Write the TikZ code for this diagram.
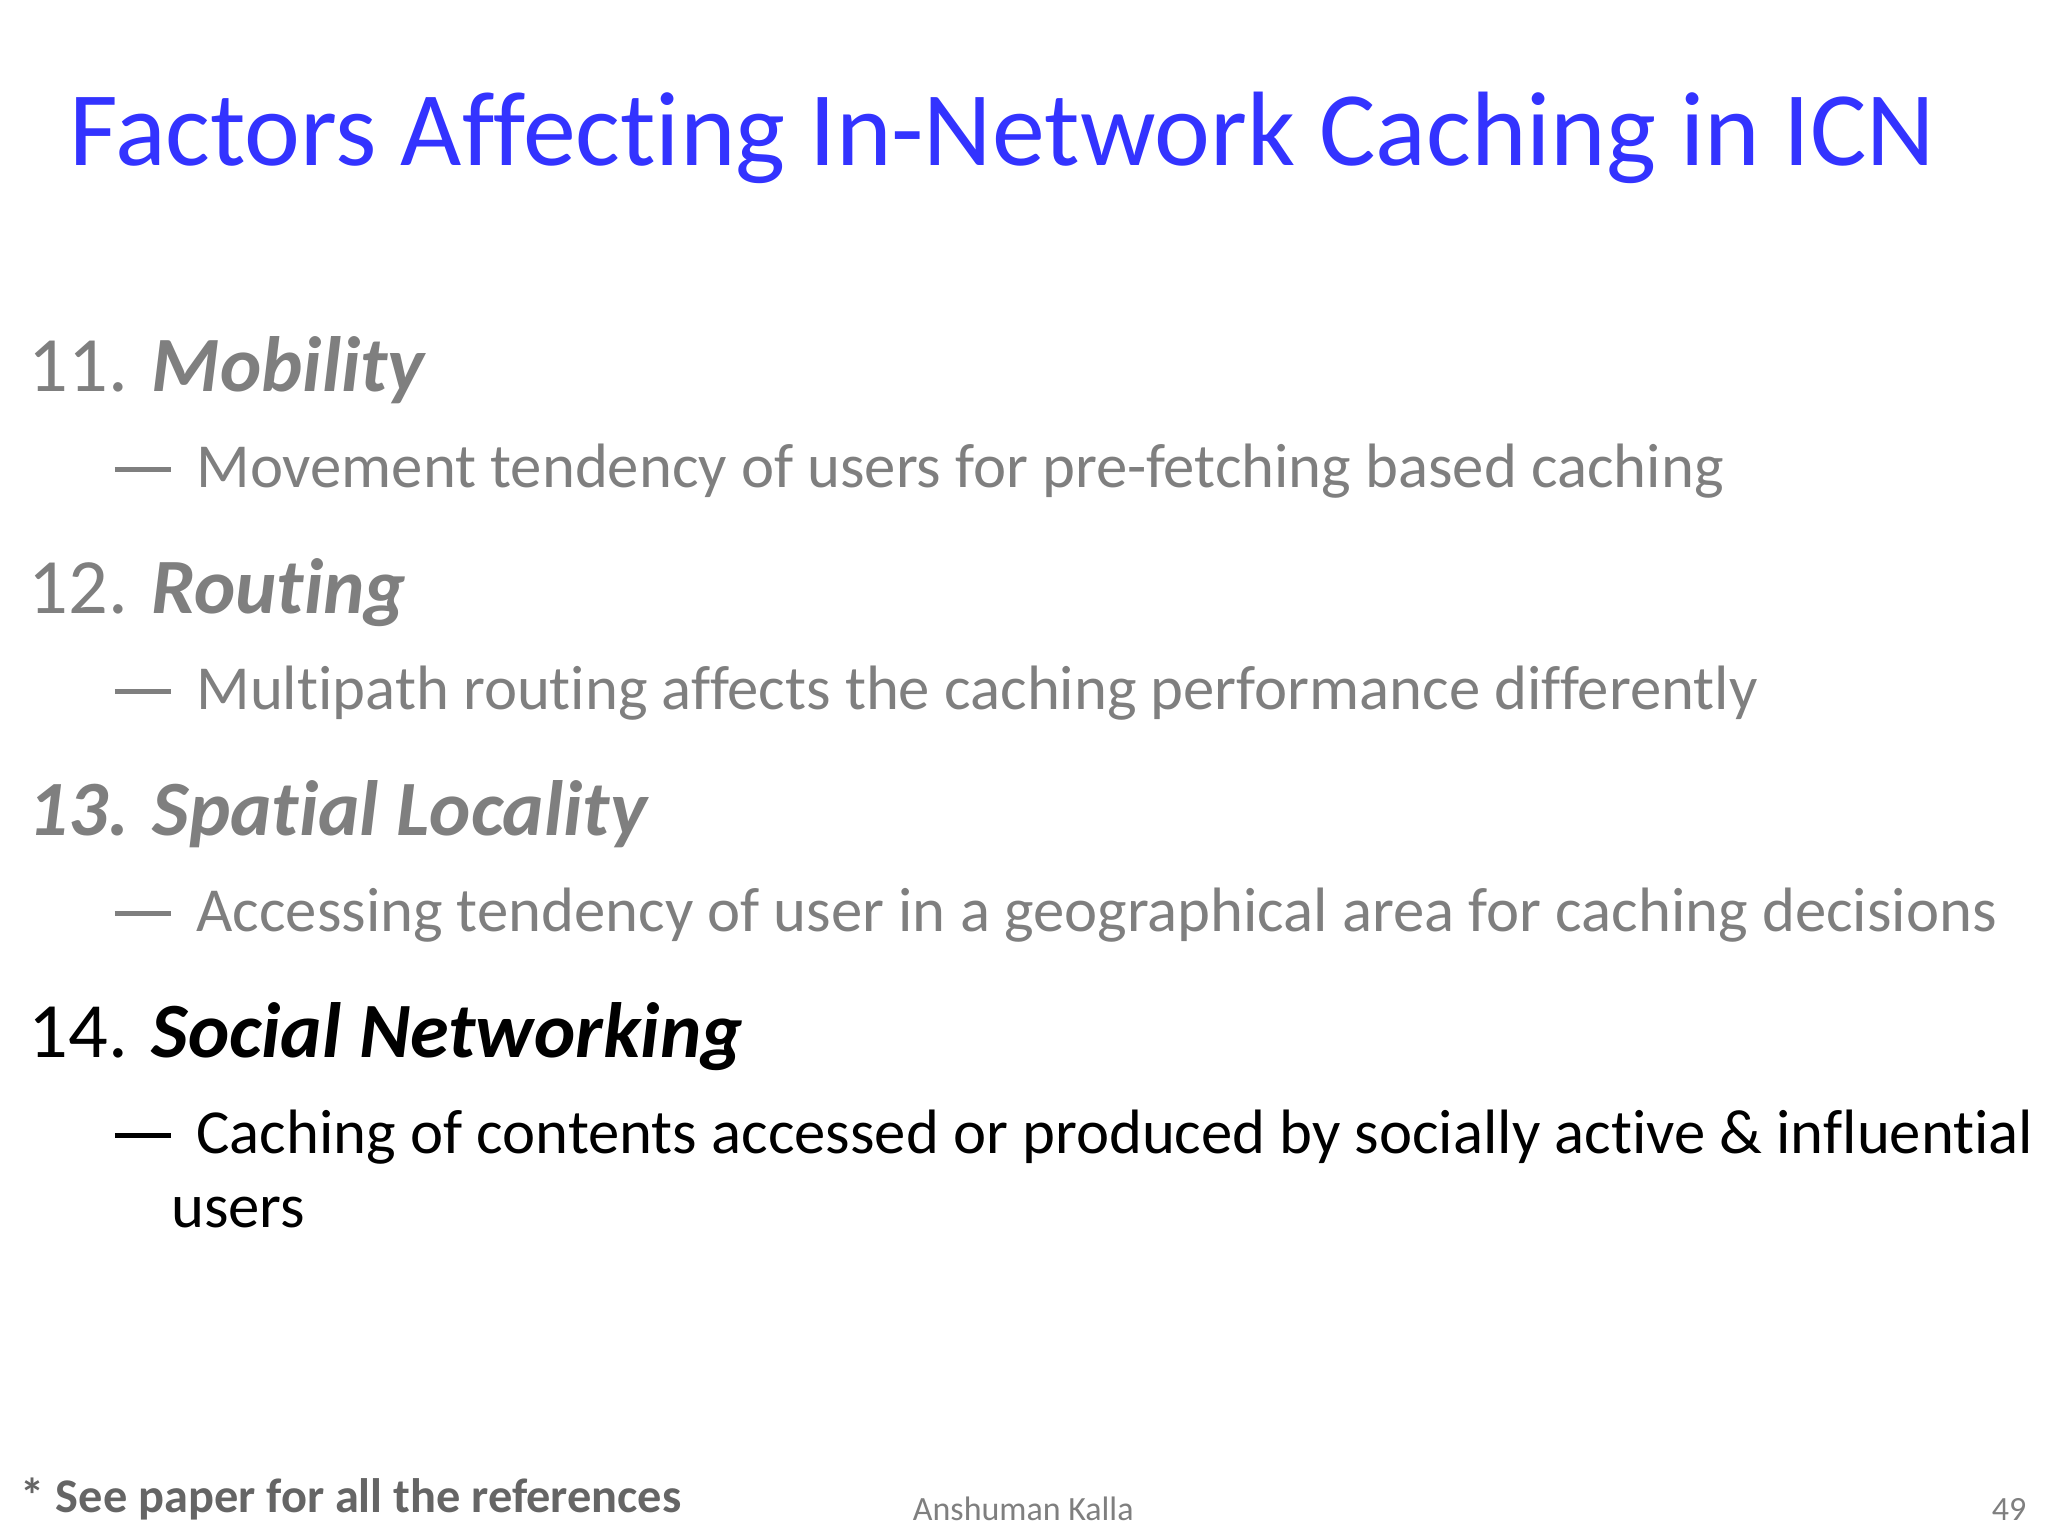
\documentclass[tikz,border=0pt]{standalone}
\usepackage{fontspec}
\setmainfont{Carlito}[RawFeature={-liga;-clig}]
\definecolor{ttl}{RGB}{51,51,255}
\definecolor{gr}{RGB}{127,127,127}
\newcommand{\dsh}{\rule[0.25em]{0.9em}{0.07em}\hspace{0.4em}}
\begin{document}
\begin{tikzpicture}[x=0.5pt,y=-0.5pt,
  every node/.style={anchor=base west,inner sep=0pt,outer sep=0pt},
  head/.style={font=\fontsize{30}{36}\selectfont},
  sub/.style={font=\fontsize{24}{30}\selectfont}]
\useasboundingbox[fill=white] (0,0) rectangle (1568,1176);
\node[font=\fontsize{40.5}{48}\selectfont,text=ttl] (t) at (53,127) {Factors Affecting In-Network Caching in ICN};
\node[head,text=gr] (h1) at (22,300) {11. \textbf{\textit{Mobility}}};
\node[sub,text=gr] (s1) at (88,373) {\dsh Movement tendency of users for pre-fetching based caching};
\node[head,text=gr] (h2) at (22,470) {12. \textbf{\textit{Routing}}};
\node[sub,text=gr] (s2) at (88,543) {\dsh Multipath routing affects the caching performance differently};
\node[head,text=gr] (h3) at (22,640) {\textbf{\textit{13. Spatial Locality}}};
\node[sub,text=gr] (s3) at (88,713) {\dsh Accessing tendency of user in a geographical area for caching decisions};
\node[head] (h4) at (22,810) {14. \textbf{\textit{Social Networking}}};
\node[sub] (s4) at (88,883) {\dsh Caching of contents accessed or produced by socially active \& influential};
\node[sub] (s5) at (131,940) {users};
\node[font=\fontsize{18.5}{22}\selectfont\bfseries,text=gr!80!black] (f) at (16,1158) {* See paper for all the references};
\node[font=\fontsize{13}{16}\selectfont,text=gr] (a) at (699,1164) {Anshuman Kalla};
\node[font=\fontsize{13}{16}\selectfont,text=gr] (p) at (1525,1164) {49};
\end{tikzpicture}
\end{document}
